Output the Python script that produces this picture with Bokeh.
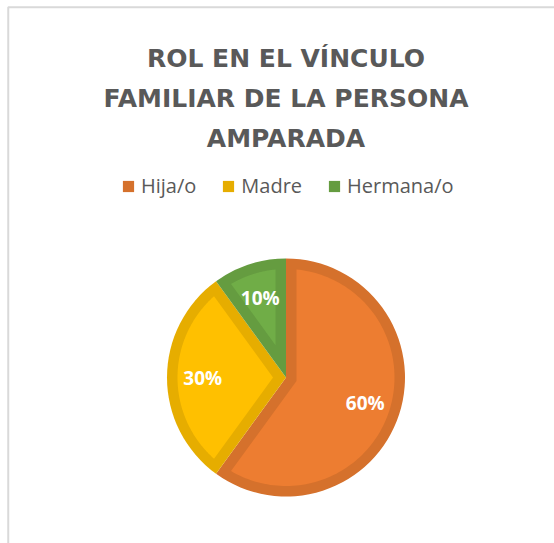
import math
from bokeh.plotting import figure
from bokeh.models import ColumnDataSource, Legend, LegendItem, Range1d
from bokeh.core.properties import value
from bokeh.embed import file_html
from bokeh.resources import INLINE

# ---- data ----
title_lines = ["ROL EN EL VÍNCULO", "FAMILIAR DE LA PERSONA", "AMPARADA"]
categories = ["Hija/o", "Madre", "Hermana/o"]
percentages = [60, 30, 10]
fill_colors = ["#ED7D31", "#FFC000", "#70AD47"]
edge_colors = ["#D5712C", "#E6AD00", "#659C40"]

# ---- layout (pixels) ----
W, H = 554, 543
CX, CY = 285.5, 166.0
R = 119.0
D = 10.5
LABEL_FRAC = 0.70

total = float(sum(percentages))
starts, ends = [], []
acc = 0.0
for v in percentages:
    starts.append(math.pi / 2 - 2 * math.pi * (acc + v) / total)
    ends.append(math.pi / 2 - 2 * math.pi * acc / total)
    acc += v

# inset polygons (inner lighter fill)
xs, ys = [], []
delta = math.asin(D / (R - D))
for a0, a1 in zip(starts, ends):
    th = a1 - a0
    mid = (a0 + a1) / 2
    ad = D / math.sin(th / 2)
    px = [CX + ad * math.cos(mid)]
    py = [CY + ad * math.sin(mid)]
    n = 120
    for i in range(n + 1):
        a = (a0 + delta) + (a1 - a0 - 2 * delta) * i / n
        px.append(CX + (R - D) * math.cos(a))
        py.append(CY + (R - D) * math.sin(a))
    xs.append(px)
    ys.append(py)

mids = [(a0 + a1) / 2 for a0, a1 in zip(starts, ends)]
lab_x = [CX + LABEL_FRAC * R * math.cos(m) for m in mids]
lab_y = [CY + LABEL_FRAC * R * math.sin(m) for m in mids]
lab_txt = [f"{v}%" for v in percentages]

src = ColumnDataSource(dict(cat=categories, start=starts, end=ends,
                            fill=fill_colors, edge=edge_colors,
                            xs=xs, ys=ys))

p = figure(width=W, height=H, output_backend="svg", toolbar_location=None,
           x_range=Range1d(0, W), y_range=Range1d(0, H),
           min_border=0, min_border_left=0, min_border_right=0,
           min_border_top=0, min_border_bottom=0)
p.xaxis.visible = False
p.yaxis.visible = False
p.grid.visible = False
p.outline_line_color = None
p.background_fill_color = "white"
p.border_fill_color = "white"

# chart frame (left and top edges visible)
p.line(x=[7.75, 7.75, W], y=[0, H - 6.75, H - 6.75],
       line_color="#D9D9D9", line_width=2)

wr = p.wedge(x=CX, y=CY, radius=R, start_angle="start", end_angle="end",
             fill_color="edge", line_color=None, source=src)
p.patches(xs="xs", ys="ys", fill_color="fill", line_color=None, source=src)

p.text(x=lab_x, y=lab_y, text=lab_txt, text_align="center",
       text_baseline="middle", text_color="white",
       text_font=value("Open Sans"), text_font_style="bold",
       text_font_size="19px")

title_y = [485, 445, 405]
p.text(x=[CX] * len(title_lines), y=title_y, text=title_lines,
       text_align="center", text_baseline="alphabetic", text_color="#595959",
       text_font=value("DejaVu Sans"), text_font_style="bold",
       text_font_size="25px")

items = [LegendItem(label=c, renderers=[wr], index=i) for i, c in enumerate(categories)]
legend = Legend(items=items, orientation="horizontal", location=(121, 344),
                glyph_width=14, glyph_height=14, label_standoff=6, spacing=25,
                padding=0, margin=0, border_line_color=None,
                background_fill_alpha=0, label_text_font_size="20px",
                label_text_color="#595959", label_text_font="Open Sans")
p.add_layout(legend, "center")

open("out.html", "w").write(file_html(p, INLINE))
